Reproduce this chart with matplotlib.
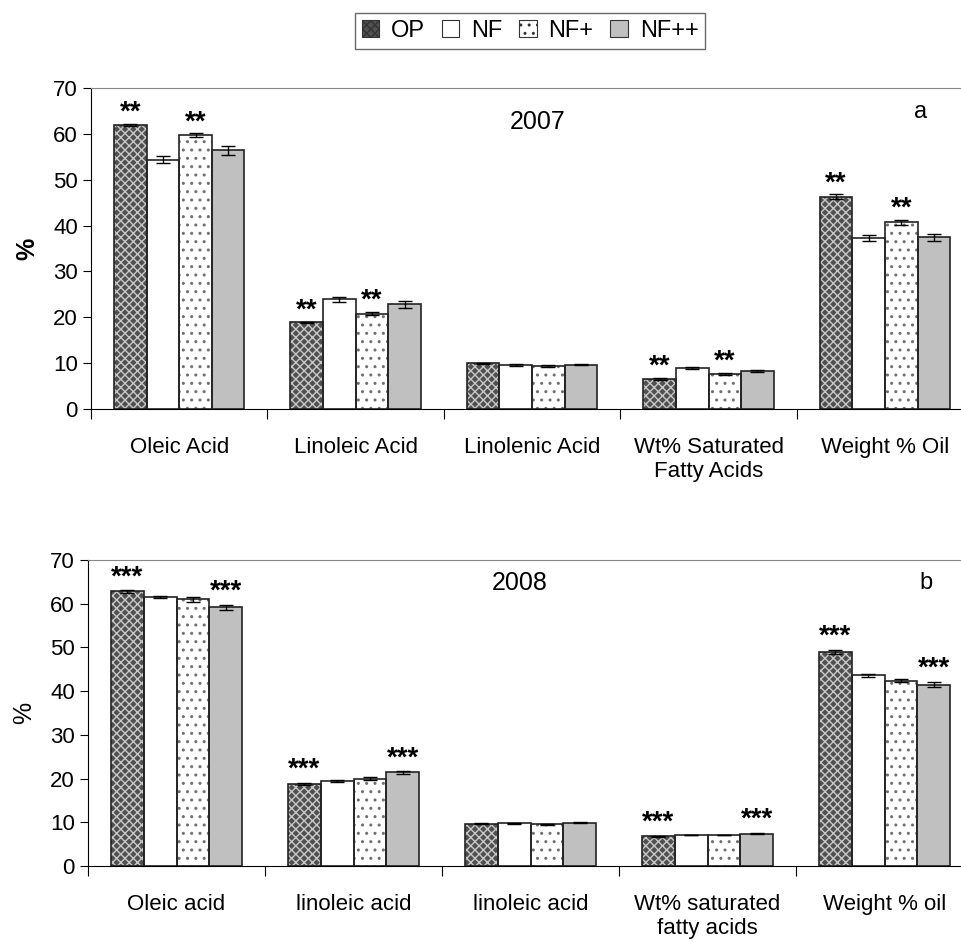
#!/usr/bin/env python3

import numpy as np
from matplotlib import pyplot as plt
from matplotlib.patches import Patch

plt.rcParams['font.family'] = ['Liberation Sans', 'DejaVu Sans']
plt.rcParams['hatch.linewidth'] = 1.0

treatments = ["OP", "NF", "NF+", "NF++"]

labels_2007 = ["Oleic Acid", "Linoleic Acid", "Linolenic Acid",
               "Wt% Saturated\nFatty Acids", "Weight % Oil"]
labels_2008 = ["Oleic acid", "linoleic acid", "linoleic acid",
               "Wt% saturated\nfatty acids", "Weight % oil"]

# one list per treatment, one value per category
means_2007 = {
    "OP":   [62.0, 18.9, 9.95, 6.6, 46.3],
    "NF":   [54.4, 23.9, 9.65, 8.9, 37.3],
    "NF+":  [59.7, 20.8, 9.4, 7.7, 40.7],
    "NF++": [56.4, 22.8, 9.7, 8.3, 37.4],
}
err_2007 = {
    "OP":   [0.2, 0.15, 0.15, 0.2, 0.5],
    "NF":   [0.8, 0.5, 0.2, 0.2, 0.6],
    "NF+":  [0.4, 0.3, 0.3, 0.2, 0.5],
    "NF++": [1.0, 0.7, 0.2, 0.3, 0.8],
}
means_2008 = {
    "OP":   [62.8, 18.8, 9.7, 6.8, 49.0],
    "NF":   [61.5, 19.4, 9.75, 7.1, 43.6],
    "NF+":  [61.0, 20.0, 9.5, 7.1, 42.4],
    "NF++": [59.2, 21.4, 9.9, 7.4, 41.5],
}
err_2008 = {
    "OP":   [0.3, 0.2, 0.1, 0.1, 0.5],
    "NF":   [0.3, 0.2, 0.1, 0.1, 0.4],
    "NF+":  [0.6, 0.4, 0.15, 0.1, 0.4],
    "NF++": [0.6, 0.3, 0.15, 0.15, 0.6],
}
# significance marks per treatment and category
stars_2007 = {
    "OP":  ["**", "**", "", "**", "**"],
    "NF+": ["**", "**", "", "**", "**"],
}
stars_2008 = {
    "OP":   ["***", "***", "", "***", "***"],
    "NF++": ["***", "***", "", "***", "***"],
}

styles = {
    "OP":   dict(face="#505050", hatch="xxxx", hcol="#c8c8c8"),
    "NF":   dict(face="white", hatch=None, hcol="white"),
    "NF+":  dict(face="white", hatch="..", hcol="#707070"),
    "NF++": dict(face="#c0c0c0", hatch=None, hcol="#c0c0c0"),
}


def draw_panel(ax, labels, means, errs, stars, year, year_xy, letter,
               letter_xy, bold_ylabel, star_gap):
    n = len(labels)
    x = np.arange(n)
    width = 0.185
    for j, t in enumerate(treatments):
        pos = x + (j - 1.5) * width
        st = styles[t]
        ax.bar(pos, means[t], width, color=st["face"], hatch=st["hatch"],
               edgecolor=st["hcol"], linewidth=0, zorder=2)
        ax.bar(pos, means[t], width, fill=False, edgecolor="#222222",
               linewidth=1.2, zorder=3)
        ax.errorbar(pos, means[t], yerr=errs[t], fmt="none", ecolor="black",
                    elinewidth=1, capsize=5, capthick=1, zorder=4)
        if t in stars:
            for p, m, e, s in zip(pos, means[t], errs[t], stars[t]):
                if s:
                    ax.text(p, m + e + star_gap, s, ha="center", va="bottom",
                            fontsize=20, fontweight="bold", zorder=5)

    ax.set_xlim(-0.5, n - 0.5)
    ax.set_ylim(0, 70)
    ax.set_yticks(np.arange(0, 71, 10))
    ax.set_xticks(np.arange(n + 1) - 0.5)
    ax.set_xticklabels([])
    ax.set_xticks(x, minor=True)
    ax.set_xticklabels(labels, minor=True, fontsize=16, linespacing=1.2)
    ax.tick_params(axis="x", which="minor", length=0, pad=20)
    ax.tick_params(axis="x", which="major", length=7, direction="out")
    ax.tick_params(axis="y", length=6, labelsize=16)

    ax.spines["top"].set_color("#888888")
    ax.spines["right"].set_color("#888888")

    ax.set_ylabel("%", fontsize=18, fontweight="bold" if bold_ylabel else "normal",
                  labelpad=10)
    ax.text(year_xy[0], year_xy[1], year, transform=ax.transAxes, fontsize=18,
            ha="center", va="center")
    ax.text(letter_xy[0], letter_xy[1], letter, transform=ax.transAxes,
            fontsize=17, ha="center", va="center")


fig = plt.figure(figsize=(9.62, 9.42), dpi=100)

ax1 = fig.add_axes([0.0946, 0.5658, 0.917, 0.3408])
draw_panel(ax1, labels_2007, means_2007, err_2007, stars_2007,
           "2007", (0.506, 0.894), "a", (0.94, 0.925), True, -0.4)

ax2 = fig.add_axes([0.0915, 0.0807, 0.92, 0.3248])
draw_panel(ax2, labels_2008, means_2008, err_2008, stars_2008,
           "2008", (0.488, 0.925), "b", (0.947, 0.925), False, 0.0)

handles = [Patch(facecolor=styles[t]["face"], hatch=styles[t]["hatch"],
                 edgecolor="#333333", linewidth=0.8) for t in treatments]
leg = fig.legend(handles, treatments, loc="center", ncol=4,
                 bbox_to_anchor=(0.551, 0.967), fontsize=17,
                 handlelength=0.75, handleheight=0.75, handletextpad=0.5,
                 columnspacing=0.7, frameon=True, fancybox=False,
                 borderpad=0.3)
leg.get_frame().set_edgecolor("#444444")
leg.get_frame().set_linewidth(1)

fig.savefig("out.png", dpi=100)
